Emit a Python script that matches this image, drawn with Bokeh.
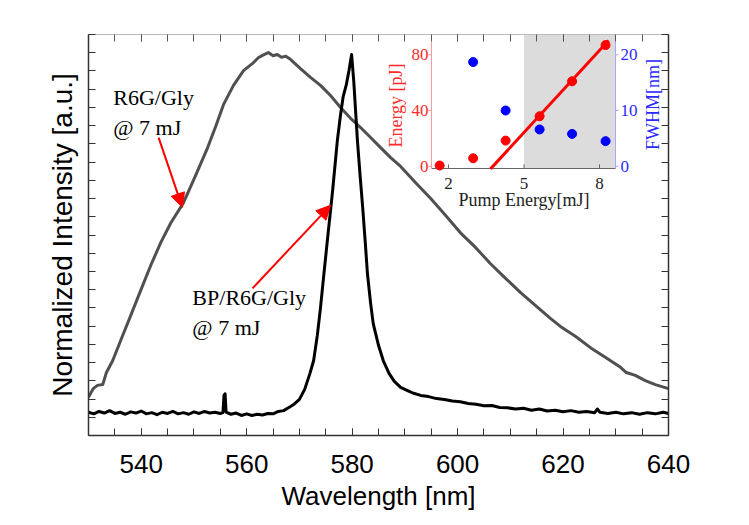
from bokeh.plotting import figure
from bokeh.models import (Range1d, LinearAxis, SingleIntervalTicker, FixedTicker,
                          CustomJSTickFormatter, Arrow, NormalHead)
from bokeh.core.properties import value
from bokeh.embed import file_html
from bokeh.resources import INLINE

# ---------------- data ----------------
# R6G/Gly spectrum (grey), normalized intensity
r6g_nm = [530.0, 530.9, 531.7, 532.7, 533.4, 534.6, 536.1, 538.0, 539.9, 541.8, 543.7,
          545.6, 548.0, 550.3, 552.6, 554.1, 555.6, 557.5, 559.4, 561.3, 562.2, 563.0,
          564.1, 565.0, 565.8, 566.6, 567.4, 568.3, 570.2, 572.1, 574.0, 575.9, 577.8,
          579.7, 581.6, 583.5, 585.4, 587.3, 589.2, 592.0, 594.9, 597.7, 600.5, 603.4,
          606.2, 609.1, 611.9, 614.8, 617.6, 619.5, 622.4, 625.2, 628.0, 630.9, 632.0,
          633.7, 635.6, 637.5, 640.0]
r6g_int = [0.095, 0.117, 0.125, 0.127, 0.157, 0.187, 0.237, 0.299, 0.362, 0.424, 0.481,
           0.530, 0.580, 0.648, 0.718, 0.770, 0.825, 0.873, 0.910, 0.930, 0.942, 0.948,
           0.955, 0.947, 0.950, 0.943, 0.946, 0.938, 0.915, 0.893, 0.873, 0.848, 0.818,
           0.791, 0.768, 0.743, 0.718, 0.693, 0.671, 0.631, 0.591, 0.549, 0.506, 0.469,
           0.429, 0.392, 0.357, 0.324, 0.292, 0.272, 0.247, 0.219, 0.195, 0.170, 0.157,
           0.150, 0.137, 0.127, 0.117]

# BP/R6G/Gly spectrum (black), normalized intensity
bp_nm = [530.0, 531.0, 532.0, 533.0, 534.0, 535.0, 536.0, 537.0, 538.0, 539.0, 540.0,
         541.0, 542.0, 543.0, 544.0, 545.0, 546.0, 547.0, 548.0, 549.0, 550.0, 551.0,
         552.0, 553.0, 554.0, 555.0, 555.5, 555.7, 555.9, 556.1, 557.0, 558.0, 559.0,
         560.0, 561.0, 562.0, 563.0, 564.0, 565.0, 566.0, 567.0, 568.0, 569.0, 570.0,
         571.0, 572.0, 572.7, 573.4, 574.0, 574.7, 575.3, 576.3, 577.2, 577.8, 578.3,
         578.9, 579.4, 579.9, 580.3, 580.7, 581.0, 581.5, 582.0, 582.5, 582.9, 583.5,
         584.0, 585.0, 585.9, 587.0, 588.0, 589.2, 590.5, 591.5, 593.0, 594.5, 596.0,
         597.5, 599.0, 600.5, 602.0, 603.5, 605.0, 606.5, 608.0, 609.5, 611.0, 612.5,
         614.0, 615.5, 617.0, 618.5, 620.0, 621.5, 623.0, 624.5, 626.0, 626.5, 627.0,
         628.5, 630.0, 631.5, 633.0, 634.5, 636.0, 637.5, 639.0, 640.0]
bp_int = [0.058, 0.054, 0.060, 0.056, 0.062, 0.055, 0.058, 0.053, 0.059, 0.056, 0.061,
          0.054, 0.057, 0.052, 0.058, 0.055, 0.060, 0.054, 0.057, 0.053, 0.059, 0.055,
          0.060, 0.056, 0.058, 0.055, 0.057, 0.100, 0.104, 0.058, 0.053, 0.056, 0.050,
          0.054, 0.050, 0.053, 0.051, 0.055, 0.054, 0.060, 0.062, 0.070, 0.078, 0.090,
          0.115, 0.155, 0.187, 0.250, 0.319, 0.410, 0.486, 0.611, 0.736, 0.800, 0.845,
          0.875, 0.910, 0.950, 0.885, 0.800, 0.736, 0.650, 0.569, 0.480, 0.404, 0.330,
          0.279, 0.225, 0.187, 0.155, 0.135, 0.120, 0.112, 0.106, 0.100, 0.097, 0.092,
          0.090, 0.086, 0.084, 0.080, 0.078, 0.074, 0.075, 0.070, 0.069, 0.066, 0.068,
          0.063, 0.066, 0.061, 0.063, 0.059, 0.062, 0.058, 0.060, 0.057, 0.066, 0.058,
          0.055, 0.058, 0.054, 0.057, 0.053, 0.057, 0.054, 0.058, 0.055]

# inset: output energy and FWHM versus pump energy
pump_energy = [1.65, 2.98, 4.27, 5.62, 6.91, 8.24]
output_energy = [0.5, 5.7, 18.4, 35.9, 61.0, 87.0]
pump_energy_fwhm = [2.98, 4.27, 5.62, 6.91, 8.24]
fwhm = [18.7, 10.0, 6.6, 5.8, 4.5]
fit_pump = [3.67, 8.36]
fit_energy = [-1.9, 90.3]
threshold_pump = 5.0

inset_energy_ticks = [0, 40, 80]
inset_fwhm_ticks = [0, 10, 20]
inset_pump_ticks = [2, 5, 8]

# ---------------- figure ----------------
SANS = "Liberation Sans"
SERIF = "Liberation Serif"

p = figure(frame_width=580, frame_height=401,
           x_range=Range1d(530, 640), y_range=Range1d(0, 1),
           output_backend="svg", toolbar_location=None,
           min_border_left=88, min_border_right=73, min_border_top=34, min_border_bottom=82)
p.outline_line_color = None
p.xgrid.visible = False
p.ygrid.visible = False
p.background_fill_color = "white"

blank = CustomJSTickFormatter(code="return ''")
xticker = SingleIntervalTicker(interval=20, num_minor_ticks=4)
yticker = FixedTicker(ticks=[i / 22 for i in range(23)])

xa = p.xaxis[0]
xa.ticker = xticker
xa.axis_label = "Wavelength [nm]"
xa.axis_label_text_font = SANS
xa.axis_label_text_font_style = "normal"
xa.axis_label_text_font_size = "26px"
xa.axis_label_text_color = "black"
xa.major_label_text_font = SANS
xa.major_label_text_font_size = "26px"
xa.major_label_text_color = "black"
xa.major_label_standoff = 19
xa.axis_label_standoff = 5

ya = p.yaxis[0]
ya.ticker = yticker
ya.formatter = blank
ya.axis_label = "Normalized Intensity [a.u.]"
ya.axis_label_text_font = SANS
ya.axis_label_text_font_style = "normal"
ya.axis_label_text_font_size = "28px"
ya.axis_label_text_color = "black"
ya.major_label_standoff = 0
ya.axis_label_standoff = 11

for ax in (xa, ya):
    ax.axis_line_color = "#333333"
    ax.axis_line_width = 1.5
    ax.major_tick_in = 7
    ax.major_tick_out = 0
    ax.minor_tick_in = 7
    ax.minor_tick_out = 0
    ax.major_tick_line_color = "#333333"
    ax.minor_tick_line_color = "#333333"

top = LinearAxis(ticker=xticker, formatter=blank, axis_line_color="#bbbbbb",
                 major_tick_in=7, major_tick_out=0, minor_tick_in=7, minor_tick_out=0,
                 major_tick_line_color="#555555", minor_tick_line_color="#555555",
                 major_label_standoff=0)
p.add_layout(top, "above")
right = LinearAxis(ticker=yticker, formatter=blank, axis_line_color="#333333",
                   axis_line_width=1.5, major_tick_in=7, major_tick_out=0,
                   minor_tick_in=0, minor_tick_out=0,
                   major_tick_line_color="#333333", major_label_standoff=0)
p.add_layout(right, "right")

# spectra
p.line(r6g_nm, r6g_int, line_color="#505050", line_width=3, line_join="round")
p.line(bp_nm, bp_int, line_color="black", line_width=3, line_join="round")

# annotations
p.text(x=[534.7, 534.7, 549.7, 549.7], y=[0.843, 0.768, 0.344, 0.269],
       text=["R6G/Gly", "@ 7 mJ", "BP/R6G/Gly", "@ 7 mJ"],
       text_font=value(SERIF), text_font_size="22px", text_color="black",
       text_align="left", text_baseline="middle")
for xs, ys, xe, ye in [(543.3, 0.743, 547.8, 0.569), (561.1, 0.367, 575.9, 0.574)]:
    p.add_layout(Arrow(end=NormalHead(size=14, fill_color="red", line_color="red", line_width=1),
                       x_start=xs, y_start=ys, x_end=xe, y_end=ye,
                       line_color="red", line_width=2))

# ---------------- inset (drawn in the same frame through extra ranges) ----------------
p.extra_x_ranges = {"ix": Range1d(-12.30, 10.74)}
p.extra_y_ranges = {"ie": Range1d(-193.4, 94.6), "iw": Range1d(-48.35, 23.65)}
ix_lo, ix_hi = 1.325, 8.635
ie_lo, ie_hi, ie_top = -1.65, 89.6, 94.6
iw_lo, iw_hi = ie_lo / 4, ie_hi / 4
IR = dict(x_range_name="ix", y_range_name="ie")
IW = dict(x_range_name="ix", y_range_name="iw")

p.quad(left=[threshold_pump], right=[ix_hi], bottom=[ie_lo], top=[ie_top],
       fill_color="#dcdcdc", line_color=None, **IR)
# inset axis lines
p.segment(x0=[ix_lo], y0=[ie_lo], x1=[ix_hi], y1=[ie_lo], line_color="#666666", line_width=1, **IR)
p.segment(x0=[ix_lo], y0=[ie_lo], x1=[ix_lo], y1=[ie_hi], line_color="#ff9a9a", line_width=1, **IR)
p.segment(x0=[ix_hi], y0=[iw_lo], x1=[ix_hi], y1=[iw_hi], line_color="#a8a8ff", line_width=1, **IW)
# inset ticks
p.segment(x0=inset_pump_ticks, y0=[ie_lo] * 3, x1=inset_pump_ticks, y1=[ie_lo + 3] * 3,
          line_color="#666666", line_width=1, **IR)
p.segment(x0=[ix_lo] * 3, y0=inset_energy_ticks, x1=[ix_lo - 0.12] * 3, y1=inset_energy_ticks,
          line_color="#ff9a9a", line_width=1, **IR)
p.segment(x0=[ix_hi] * 3, y0=inset_fwhm_ticks, x1=[ix_hi + 0.12] * 3, y1=inset_fwhm_ticks,
          line_color="#a8a8ff", line_width=1, **IW)

# inset data
p.line(fit_pump, fit_energy, line_color="red", line_width=3, **IR)
p.scatter(pump_energy, output_energy, size=9, fill_color="red", line_color="red", **IR)
p.scatter(pump_energy_fwhm, fwhm, size=9, fill_color="blue", line_color="blue", **IW)

# inset tick labels and titles
p.text(x=inset_pump_ticks, y=[-12.4] * 3, text=[str(v) for v in inset_pump_ticks],
       text_font=value(SERIF), text_font_size="17px", text_color="#222222",
       text_align="center", text_baseline="middle", **IR)
p.text(x=[5.0], y=[-24.6], text=["Pump Energy[mJ]"],
       text_font=value(SERIF), text_font_size="18px", text_color="#222222",
       text_align="center", text_baseline="middle", **IR)
p.text(x=[1.205] * 3, y=inset_energy_ticks, text=[str(v) for v in inset_energy_ticks],
       text_font=value(SERIF), text_font_size="17px", text_color="#ff2a2a",
       text_align="right", text_baseline="middle", **IR)
p.text(x=[-0.066], y=[43.6], text=["Energy [pJ]"], angle=[1.5707963],
       text_font=value(SERIF), text_font_size="18px", text_color="#ff2a2a",
       text_align="center", text_baseline="middle", **IR)
p.text(x=[8.83] * 3, y=inset_fwhm_ticks, text=[str(v) for v in inset_fwhm_ticks],
       text_font=value(SERIF), text_font_size="17px", text_color="#2a2aff",
       text_align="left", text_baseline="middle", **IW)
p.text(x=[10.14], y=[11.08], text=["FWHM[nm]"], angle=[1.5707963],
       text_font=value(SERIF), text_font_size="18px", text_color="#2a2aff",
       text_align="center", text_baseline="middle", **IW)

open("out.html", "w").write(file_html(p, INLINE))
